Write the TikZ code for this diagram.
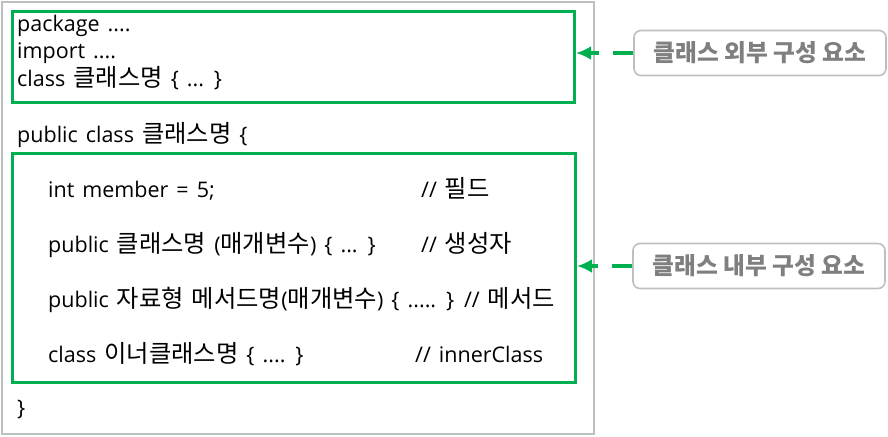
\documentclass[tikz,border=0pt]{standalone}
\usepackage{fontspec}
\setmainfont{Open Sans}
\newfontfamily\krfont{Noto Sans CJK KR}[Scale=1.13]
\newcommand\kr[1]{{\krfont #1}}
\newcommand\codefont{\fontsize{21.5}{21.5}\selectfont\spaceskip=8pt\relax}
\usetikzlibrary{arrows.meta, positioning}
\definecolor{boxgreen}{RGB}{0,176,80}
\definecolor{framegray}{RGB}{191,191,191}
\definecolor{taggray}{RGB}{127,127,127}

\begin{document}
\begin{tikzpicture}[x=1pt, y=-1pt,
    codeline/.style={anchor=base west, inner sep=0pt, font=\codefont},
    greenbox/.style={draw=boxgreen, line width=3pt, anchor=north west, inner sep=0pt},
    tagbox/.style={draw=framegray, line width=1.6pt, rounded corners=7pt, minimum width=252pt, minimum height=45pt, text=taggray, font=\fontsize{21}{21}\selectfont\krfont\bfseries},
    tagarrow/.style={draw=boxgreen, line width=3.5pt, dash pattern=on 20pt off 14pt, -{Latex[length=15pt,width=14pt]}}]
\useasboundingbox (0,0) rectangle (888,436);

% outer frame and the two groups
\node[draw=framegray, line width=2pt, anchor=north west, inner sep=0pt, minimum width=592pt, minimum height=432pt] (frame) at (1,1) {};
\node[greenbox, minimum width=562pt, minimum height=91pt] (outer) at (11,10) {};
\node[greenbox, minimum width=563pt, minimum height=229pt] (inner) at (11,152) {};

% code outside the class
\node[codeline] (pkg) at (17,32) {package ....};
\node[codeline] (imp) at (17,59) {import ....};
\node[codeline] (cls) at (17,86) {class \kr{클래스명} \{ ... \}};
\node[codeline] (pubcls) at (17,142) {public class \kr{클래스명} \{};

% code inside the class
\node[codeline] (field) at (48,197) {int member = 5;};
\node[codeline] (fieldcm) at (421,197) {// \kr{필드}};
\node[codeline] (ctor) at (48,252) {public \kr{클래스명} (\kr{매개변수}) \{ ... \}};
\node[codeline] (ctorcm) at (421,252) {// \kr{생성자}};
\node[codeline] (method) at (48,307) {public \kr{자료형 메서드명}(\kr{매개변수}) \{ ..... \} // \kr{메서드}};
\node[codeline] (innercls) at (48,362) {class \kr{이너클래스명} \{ .... \}};
\node[codeline] (innercm) at (415,362) {// innerClass};
\node[codeline] (close) at (17,415) {\}};

% tags
\node[tagbox] (outertag) at (760,53) {클래스 외부 구성 요소};
\node[tagbox] (innertag) at (759,266) {클래스 내부 구성 요소};
\draw[tagarrow] (outertag.west) -- (outertag.west -| outer.east);
\draw[tagarrow] (innertag.west) -- (innertag.west -| inner.east);
\end{tikzpicture}
\end{document}
